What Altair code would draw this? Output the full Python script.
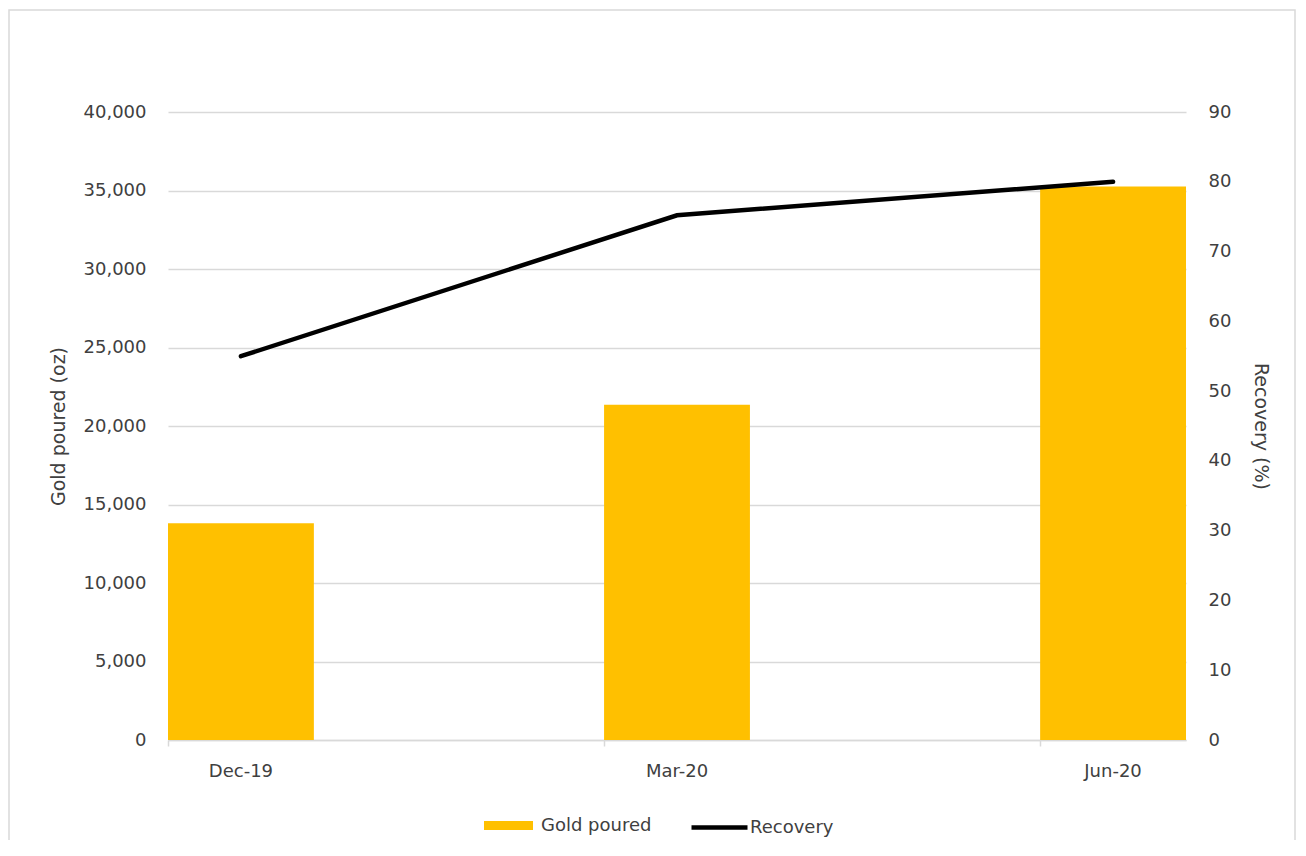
import altair as alt
import pandas as pd

periods = ["Dec-19", "Mar-20", "Jun-20"]
gold_poured = [13800, 21350, 35250]
recovery = [55, 75.2, 80]
left_ticks = [0, 5000, 10000, 15000, 20000, 25000, 30000, 35000, 40000]
right_ticks = [0, 10, 20, 30, 40, 50, 60, 70, 80, 90]

df = pd.DataFrame({"period": periods, "gold": gold_poured, "recovery": recovery})

FONT = "DejaVu Sans"
GREY = "#404040"
GRID = "#d9d9d9"
GOLD = "#FFC000"

x_enc = alt.X(
    "period:N", sort=periods, title=None,
    scale=alt.Scale(type="band", paddingInner=0.6655, paddingOuter=0),
    axis=alt.Axis(labelAngle=0, bandPosition=0, tickSize=6,
                  tickColor=GRID, tickWidth=1.5, domainColor=GRID, domainWidth=1.5,
                  labelPadding=16, labelFontSize=18, labelColor=GREY, labelFont=FONT,
                  grid=False),
)

bars = alt.Chart(df).transform_calculate(series="'Gold poured'").mark_bar().encode(
    x=x_enc,
    y=alt.Y("gold:Q", scale=alt.Scale(domain=[0, 40000], nice=False),
            axis=alt.Axis(values=left_ticks, format=",d", title="Gold poured (oz)",
                          orient="left", grid=True, gridColor=GRID, gridWidth=1.5,
                          domain=False, ticks=False, labelPadding=22,
                          labelFontSize=18, labelColor=GREY, labelFont=FONT,
                          titleFontSize=19, titleFont=FONT, titleColor=GREY,
                          titleFontWeight="normal", titleX=-110, titleY=314,
                          titleAngle=-90, titleBaseline="middle", titleAlign="center")),
    fill=alt.Fill("series:N", scale=alt.Scale(domain=["Gold poured"], range=[GOLD]),
                  legend=alt.Legend(orient="none", legendX=316, legendY=689, title=None,
                                    symbolType="M-1,-0.18H1V0.18H-1Z", symbolSize=2401,
                                    symbolStrokeWidth=0, labelFontSize=18, labelColor=GREY,
                                    labelFont=FONT, labelOffset=8, padding=0)),
)

line = alt.Chart(df).transform_calculate(series="'Recovery'").mark_line(
    strokeWidth=4.5, strokeCap="round"
).encode(
    x=alt.X("period:N", sort=periods),
    y=alt.Y("recovery:Q", scale=alt.Scale(domain=[0, 90], nice=False),
            axis=alt.Axis(orient="right", values=right_ticks, title="Recovery (%)",
                          grid=False, domain=False, ticks=False, labelPadding=22,
                          labelFontSize=18, labelColor=GREY, labelFont=FONT,
                          titleFontSize=19, titleFont=FONT, titleColor=GREY,
                          titleFontWeight="normal", titleX=74, titleY=314,
                          titleAngle=90, titleBaseline="middle", titleAlign="center")),
    stroke=alt.Stroke("series:N", scale=alt.Scale(domain=["Recovery"], range=["#000000"]),
                      legend=alt.Legend(orient="none", legendX=521, legendY=685, title=None,
                                        symbolType="stroke", symbolSize=3136,
                                        symbolStrokeWidth=4.5, labelFontSize=18,
                                        labelColor=GREY, labelFont=FONT, labelOffset=0,
                                        padding=0)),
)

border = alt.Chart(pd.DataFrame({"k": [0]})).mark_rect(
    fillOpacity=0, stroke=GRID, strokeWidth=1.5
).encode(
    x=alt.value(-159), x2=alt.value(1127), y=alt.value(-102), y2=alt.value(760)
)

chart = alt.layer(border, bars, line).resolve_scale(
    y="independent"
).properties(
    width=1018, height=628,
    padding={"left": 160, "top": 104, "right": 110, "bottom": 100},
    autosize=alt.AutoSizeParams(type="none"),
).configure_view(stroke=None)

chart.save("out.html", embed_options={"renderer": "svg", "actions": False})
